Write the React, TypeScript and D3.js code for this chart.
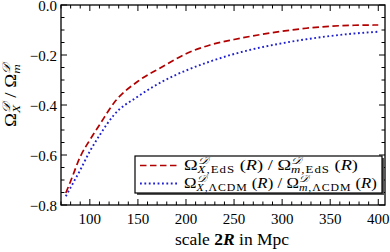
import * as d3 from 'd3';
import { useEffect, useRef } from 'react';

// scale 2R in Mpc
const scales = [75, 80, 90, 100, 110, 125, 150, 175, 200, 225, 250, 275, 300, 325, 350, 375, 400];
const ratioEdS = [-0.752, -0.705, -0.607, -0.54, -0.48, -0.392, -0.305, -0.248, -0.195, -0.16, -0.138, -0.12, -0.105, -0.093, -0.085, -0.081, -0.08];
const ratioLCDM = [-0.765, -0.73, -0.66, -0.585, -0.522, -0.44, -0.366, -0.307, -0.262, -0.226, -0.196, -0.172, -0.153, -0.137, -0.124, -0.114, -0.107];

const xTicks = [100, 150, 200, 250, 300, 350, 400];
const yTicks = [-0.8, -0.6, -0.4, -0.2, 0.0];

const dims = { width: 390, height: 252, left: 61, right: 385, top: 5, bottom: 205 };
const FONT = "'Liberation Serif', 'DejaVu Serif', serif";
const CAL = '\u{1D49F}';

type Seg = { t: string; it?: boolean; b?: boolean };
type Piece = { segs: Seg[]; size: number; shift?: number; stack?: boolean; ls?: number };

// lays out a row of text pieces, with sub/superscripts stacked on the same x
function drawMath(parent: any, x: number, y: number, pieces: Piece[], anchor: 'start' | 'middle', fitWidth?: number) {
  const g = parent.append('g');
  let cursor = 0;
  let prevStart = 0;
  let prevEnd = 0;
  pieces.forEach((p) => {
    const px = p.stack ? prevStart : cursor;
    const t = g
      .append('text')
      .attr('x', px)
      .attr('y', p.shift || 0)
      .style('font-family', FONT)
      .style('font-size', p.size + 'px')
      .style('letter-spacing', (p.ls || 0) + 'px')
      .style('white-space', 'pre')
      .attr('fill', '#000');
    p.segs.forEach((s) => {
      t.append('tspan')
        .style('font-style', s.it ? 'italic' : 'normal')
        .style('font-weight', s.b ? 'bold' : 'normal')
        .text(s.t);
    });
    const w = (t.node() as SVGTextElement).getComputedTextLength();
    if (p.stack) {
      cursor = Math.max(prevEnd, px + w);
    } else {
      prevStart = px;
      prevEnd = px + w;
      cursor = px + w;
    }
  });
  const sx = fitWidth ? fitWidth / cursor : 1;
  const offset = anchor === 'middle' ? (-cursor * sx) / 2 : 0;
  g.attr('transform', `translate(${x + offset},${y}) scale(${sx},1)`);
  return g;
}

function ratioPieces(sub1: string, sub2: string, size: number, withR: boolean): Piece[] {
  const sup = size * 0.7;
  const ls = withR ? 0.8 : 0.3;
  const ps: Piece[] = [
    { segs: [{ t: 'Ω' }], size },
    { segs: [{ t: CAL, it: true }], size: sup, shift: -size * 0.38 },
    { segs: [{ t: sub1.charAt(0), it: true }, { t: sub1.slice(1) }], size: sup, shift: size * 0.27, stack: true, ls },
  ];
  if (withR) ps.push({ segs: [{ t: ' (' }, { t: 'R', it: true }, { t: ')' }], size });
  ps.push({ segs: [{ t: ' / Ω' }], size });
  ps.push({ segs: [{ t: CAL, it: true }], size: sup, shift: -size * 0.38 });
  ps.push({ segs: [{ t: sub2.charAt(0), it: true }, { t: sub2.slice(1) }], size: sup, shift: size * 0.27, stack: true, ls });
  if (withR) ps.push({ segs: [{ t: ' (' }, { t: 'R', it: true }, { t: ')' }], size });
  return ps;
}

export default function App() {
  const svgRef = useRef(null);

  useEffect(() => {
    const svg = d3.select(svgRef.current);
    svg.selectAll('*').remove();

    const x = d3.scaleLinear().domain([70, 407]).range([dims.left, dims.right]);
    const y = d3.scaleLinear().domain([-0.8, 0]).range([dims.bottom, dims.top]);

    // curves
    const rowsEdS = scales.map((s, i) => [s, ratioEdS[i]] as [number, number]);
    const rowsLCDM = scales.map((s, i) => [s, ratioLCDM[i]] as [number, number]);
    const line = d3
      .line<[number, number]>()
      .x((d) => x(d[0]))
      .y((d) => y(d[1]))
      .curve(d3.curveMonotoneX);

    svg
      .append('path')
      .datum(rowsLCDM)
      .attr('d', line as any)
      .attr('fill', 'none')
      .attr('stroke', '#1f1fd2')
      .attr('stroke-width', 1.9)
      .attr('stroke-dasharray', '1.8,2.6');

    svg
      .append('path')
      .datum(rowsEdS)
      .attr('d', line as any)
      .attr('fill', 'none')
      .attr('stroke', '#b20000')
      .attr('stroke-width', 1.7)
      .attr('stroke-dasharray', '6.5,3.5');

    // frame
    svg
      .append('rect')
      .attr('x', dims.left)
      .attr('y', dims.top)
      .attr('width', dims.right - dims.left)
      .attr('height', dims.bottom - dims.top)
      .attr('fill', 'none')
      .attr('stroke', '#000')
      .attr('stroke-width', 1.3);

    // ticks, pointing inward on all four sides
    const ticks = svg.append('g').attr('stroke', '#000').attr('stroke-width', 1);
    d3.range(70, 408, 10).forEach((v) => {
      const major = xTicks.includes(v);
      const len = major ? 6 : 3.5;
      const px = x(v);
      ticks.append('line').attr('x1', px).attr('x2', px).attr('y1', dims.bottom).attr('y2', dims.bottom - len);
      ticks.append('line').attr('x1', px).attr('x2', px).attr('y1', dims.top).attr('y2', dims.top + len);
    });
    d3.range(-16, 1).forEach((k) => {
      const v = k * 0.05;
      const major = k % 4 === 0;
      const len = major ? 6 : 3.5;
      const py = y(v);
      ticks.append('line').attr('x1', dims.left).attr('x2', dims.left + len).attr('y1', py).attr('y2', py);
      ticks.append('line').attr('x1', dims.right).attr('x2', dims.right - len).attr('y1', py).attr('y2', py);
    });

    // tick labels
    svg
      .append('g')
      .selectAll('text')
      .data(xTicks)
      .enter()
      .append('text')
      .attr('x', (d) => x(d))
      .attr('y', 224)
      .attr('text-anchor', 'middle')
      .style('font-family', FONT)
      .style('font-size', '15px')
      .text((d) => String(d));

    svg
      .append('g')
      .selectAll('text')
      .data(yTicks)
      .enter()
      .append('text')
      .attr('x', 57)
      .attr('y', (d) => y(d) + 6)
      .attr('text-anchor', 'end')
      .style('font-family', FONT)
      .style('font-size', '15px')
      .text((d) => (d < 0 ? '\u2212' + Math.abs(d).toFixed(1) : d.toFixed(1)));

    // x label
    drawMath(
      svg,
      232,
      245,
      [{ segs: [{ t: 'scale ' }, { t: '2', b: true }, { t: 'R', b: true, it: true }, { t: ' in Mpc' }], size: 17.5 }],
      'middle'
    );

    // y label
    const yl = svg.append('g').attr('transform', 'translate(16,95) rotate(-90)');
    drawMath(yl, 0, 0, ratioPieces('X', 'm', 16, false), 'middle', 64);

    // legend
    const lg = svg.append('g');
    lg.append('rect').attr('x', 137).attr('y', 158).attr('width', 247).attr('height', 37).attr('fill', '#555');
    lg.append('rect')
      .attr('x', 135)
      .attr('y', 156)
      .attr('width', 247)
      .attr('height', 37)
      .attr('fill', '#fff')
      .attr('stroke', '#000')
      .attr('stroke-width', 1.2);
    lg.append('line')
      .attr('x1', 140)
      .attr('x2', 177)
      .attr('y1', 165.5)
      .attr('y2', 165.5)
      .attr('stroke', '#b20000')
      .attr('stroke-width', 1.7)
      .attr('stroke-dasharray', '6.5,3.5');
    lg.append('line')
      .attr('x1', 140)
      .attr('x2', 177)
      .attr('y1', 183.5)
      .attr('y2', 183.5)
      .attr('stroke', '#1f1fd2')
      .attr('stroke-width', 1.9)
      .attr('stroke-dasharray', '1.8,2.6');
    drawMath(lg, 184, 169.5, ratioPieces('X,EdS', 'm,EdS', 14.5, true), 'start', 174);
    drawMath(lg, 184, 187.5, ratioPieces('X,ΛCDM', 'm,ΛCDM', 14.5, true), 'start', 193);
  }, []);

  return (
    <div>
      <svg
        ref={svgRef}
        width={dims.width}
        height={dims.height}
        style={{ position: 'absolute', left: 0, top: 0, background: '#fff' }}
      ></svg>
    </div>
  );
}
